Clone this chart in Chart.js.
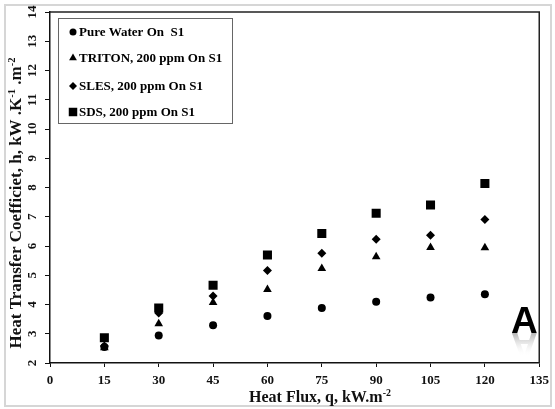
<!DOCTYPE html>
<html>
<head>
<meta charset="utf-8">
<script src="https://cdn.jsdelivr.net/npm/chart.js@4.4.0/dist/chart.umd.min.js"></script>
<style>
  body { margin: 0; background: #fff; }
  #wrap { width: 555px; height: 409px; }
</style>
</head>
<body>
<div id="wrap"><canvas id="chart" width="555" height="409"></canvas></div>
<script>
// heat flux, kW.m-2
const heatFlux = [15, 30, 45, 60, 75, 90, 105, 120];

// heat transfer coefficient, kW.K-1.m-2
const pureWater = [2.55, 2.94, 3.29, 3.61, 3.88, 4.09, 4.24, 4.35];
const triton = [2.52, 3.34, 4.07, 4.51, 5.23, 5.63, 5.95, 5.94];
const sles = [2.58, 3.71, 4.29, 5.16, 5.75, 6.23, 6.37, 6.91];
const sds = [2.86, 3.88, 4.66, 5.69, 6.43, 7.12, 7.40, 8.14];

const seriesNames = ['Pure Water On  S1', 'TRITON, 200 ppm On S1', 'SLES, 200 ppm On S1', 'SDS, 200 ppm On S1'];
const xTicks = [0, 15, 30, 45, 60, 75, 90, 105, 120, 135];
const yTicks = [2, 3, 4, 5, 6, 7, 8, 9, 10, 11, 12, 13, 14];

const serif = '"Liberation Serif", "Times New Roman", serif';

function points(ys) {
  return heatFlux.map((x, i) => ({ x: x, y: ys[i] }));
}

// draws text with superscript parts, returns width
function richText(ctx, parts, x, y, size, measureOnly) {
  let w = 0;
  parts.forEach(p => {
    const s = p[1] ? size * 0.62 : size;
    ctx.font = 'bold ' + s + 'px ' + serif;
    if (!measureOnly) ctx.fillText(p[0], x + w, p[1] ? y - size * 0.38 : y);
    w += ctx.measureText(p[0]).width;
  });
  return w;
}

function marker(ctx, style, x, y, r) {
  ctx.beginPath();
  if (style === 'circle') {
    ctx.arc(x, y, r, 0, Math.PI * 2);
  } else if (style === 'triangle') {
    ctx.moveTo(x, y - r);
    ctx.lineTo(x + r * 0.866, y + r * 0.5);
    ctx.lineTo(x - r * 0.866, y + r * 0.5);
  } else if (style === 'rectRot') {
    ctx.moveTo(x, y - r);
    ctx.lineTo(x + r, y);
    ctx.lineTo(x, y + r);
    ctx.lineTo(x - r, y);
  } else {
    const h = r * Math.SQRT1_2;
    ctx.rect(x - h, y - h, 2 * h, 2 * h);
  }
  ctx.closePath();
  ctx.fill();
}

const decor = {
  id: 'decor',
  beforeDraw(chart) {
    const ctx = chart.ctx;
    ctx.save();
    ctx.fillStyle = '#fff';
    ctx.fillRect(0, 0, chart.width, chart.height);
    ctx.strokeStyle = '#d6d6d6';
    ctx.lineWidth = 2;
    ctx.strokeRect(5, 5, 546, 401);
    ctx.restore();
  },
  afterDraw(chart) {
    const ctx = chart.ctx;
    const a = chart.chartArea;
    const ys = chart.scales.y;
    ctx.save();

    // box around plot
    ctx.strokeStyle = '#222';
    ctx.lineWidth = 1.5;
    ctx.beginPath();
    ctx.moveTo(a.left, a.top);
    ctx.lineTo(a.right, a.top);
    ctx.lineTo(a.right, a.bottom);
    ctx.stroke();

    // rotated y tick labels
    ctx.fillStyle = '#111';
    ctx.font = 'bold 13px ' + serif;
    ctx.textAlign = 'center';
    ctx.textBaseline = 'middle';
    yTicks.forEach(v => {
      const py = ys.getPixelForValue(v);
      ctx.save();
      ctx.translate(33, py);
      ctx.rotate(-Math.PI / 2);
      ctx.fillText(String(v), 0, 0);
      ctx.restore();
    });

    // y title
    ctx.textAlign = 'left';
    ctx.textBaseline = 'alphabetic';
    const yParts = [['Heat Transfer Coefficiet, h, kW .K', 0], ['-1', 1], [' .m', 0], ['-2', 1]];
    const yw = richText(ctx, yParts, 0, 0, 17, true);
    ctx.save();
    ctx.translate(21, 203 + yw / 2);
    ctx.rotate(-Math.PI / 2);
    richText(ctx, yParts, 0, 0, 17);
    ctx.restore();

    // x title
    const xParts = [['Heat Flux, q, kW.m', 0], ['-2', 1]];
    const xw = richText(ctx, xParts, 0, 0, 16, true);
    richText(ctx, xParts, 320 - xw / 2, 402, 16);

    // legend
    ctx.strokeStyle = '#666';
    ctx.lineWidth = 1;
    ctx.strokeRect(58.5, 18.5, 174, 105);
    const styles = ['circle', 'triangle', 'rectRot', 'rect'];
    const radii = [3.5, 4.5, 4, 6];
    const rows = [32, 58, 86, 112];
    ctx.fillStyle = '#000';
    seriesNames.forEach((name, i) => {
      marker(ctx, styles[i], 73, rows[i], radii[i]);
      ctx.font = 'bold 13px ' + serif;
      ctx.textBaseline = 'middle';
      ctx.fillText(name, 79, rows[i] + 1);
    });

    // big "A" with reflection
    ctx.font = 'bold 37px "Liberation Sans", Arial, sans-serif';
    ctx.textBaseline = 'alphabetic';
    ctx.fillStyle = '#000';
    ctx.fillText('A', 511, 333);
    ctx.save();
    ctx.translate(0, 666);
    ctx.scale(1, -1);
    const g = ctx.createLinearGradient(0, 333, 0, 310);
    g.addColorStop(0, 'rgba(120,120,120,0.55)');
    g.addColorStop(1, 'rgba(255,255,255,0)');
    ctx.fillStyle = g;
    ctx.fillText('A', 511, 333);
    ctx.restore();

    ctx.restore();
  }
};

const ds = (label, data, style, r) => ({
  label: label,
  data: points(data),
  pointStyle: style,
  pointRadius: r,
  pointHoverRadius: r,
  backgroundColor: '#000',
  borderColor: '#000',
  borderWidth: 0,
  showLine: false
});

new Chart(document.getElementById('chart'), {
  type: 'scatter',
  data: {
    datasets: [
      ds(seriesNames[0], pureWater, 'circle', 4),
      ds(seriesNames[1], triton, 'triangle', 5),
      ds(seriesNames[2], sles, 'rectRot', 4.5),
      ds(seriesNames[3], sds, 'rect', 6.4)
    ]
  },
  options: {
    responsive: false,
    animation: false,
    layout: { padding: { left: 0, top: 12, right: 10, bottom: 0 } },
    plugins: { legend: { display: false }, tooltip: { enabled: false } },
    scales: {
      x: {
        type: 'linear',
        min: 0,
        max: 135,
        afterBuildTicks: s => { s.ticks = xTicks.map(v => ({ value: v })); },
        afterFit: s => { s.height = 46; },
        grid: { display: true, drawOnChartArea: false, drawTicks: true, tickLength: 4, color: '#111' },
        border: { display: true, color: '#111', width: 1.5 },
        ticks: { color: '#111', padding: 6, maxRotation: 0, font: { family: serif, size: 13, weight: 'bold' } }
      },
      y: {
        type: 'linear',
        min: 2,
        max: 14,
        afterBuildTicks: s => { s.ticks = yTicks.map(v => ({ value: v })); },
        afterFit: s => { s.width = 50; },
        grid: { display: true, drawOnChartArea: false, drawTicks: true, tickLength: 5, color: '#111' },
        border: { display: true, color: '#111', width: 1.5 },
        ticks: { color: 'rgba(0,0,0,0)', font: { family: serif, size: 13, weight: 'bold' } }
      }
    }
  },
  plugins: [decor]
});
</script>
</body>
</html>
